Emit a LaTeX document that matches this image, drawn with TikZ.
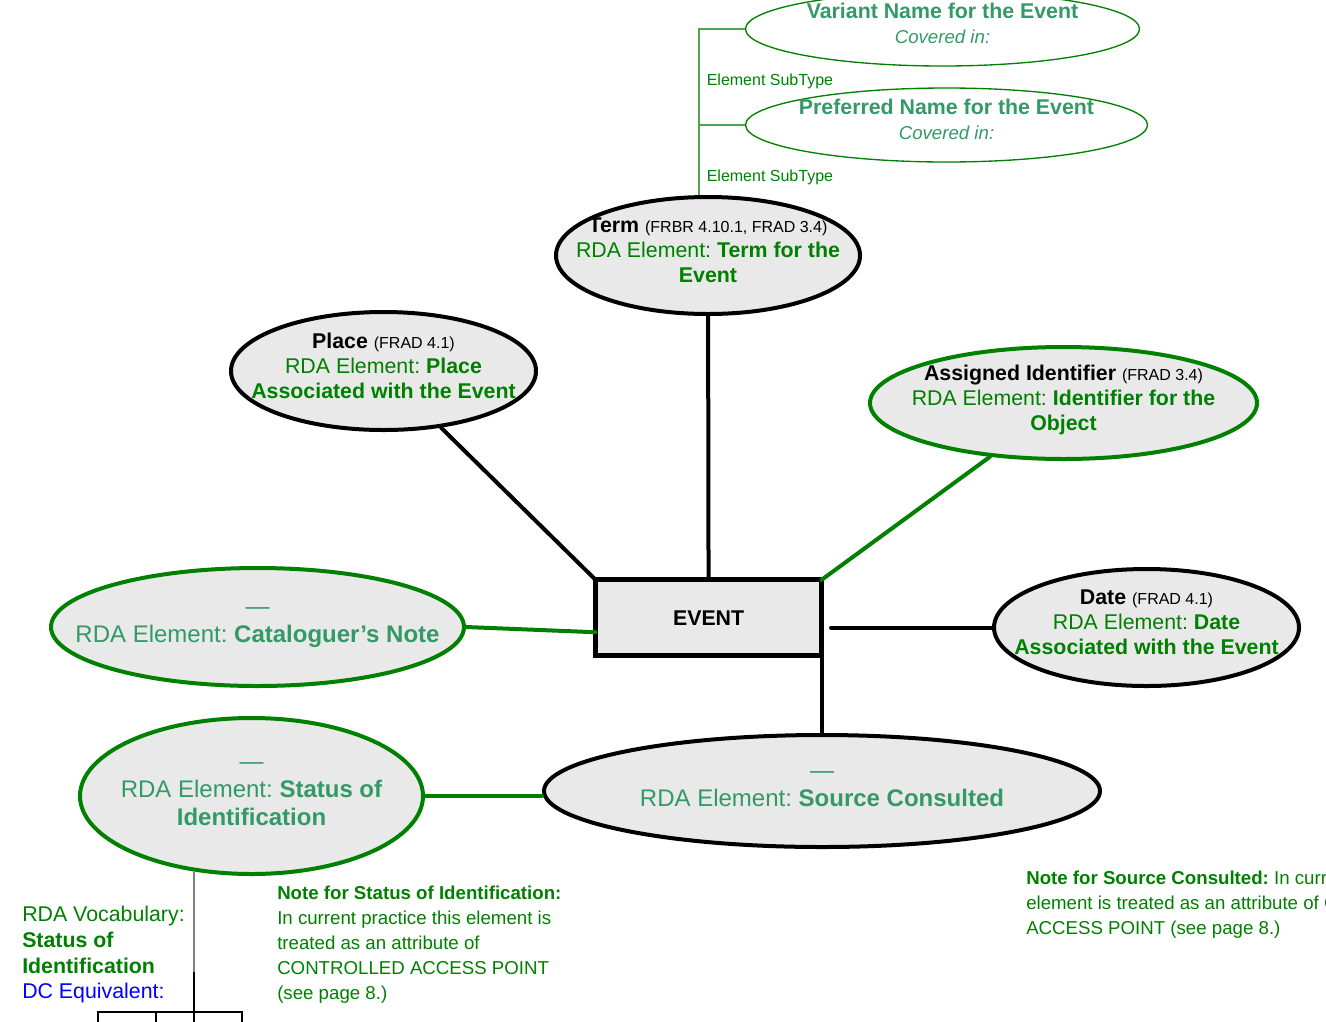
\documentclass[tikz,border=0pt]{standalone}
\usepackage{fontspec}
\setmainfont{Liberation Sans}
\usepackage{tikz}
\usetikzlibrary{calc}
\usetikzlibrary{shapes.geometric}
\definecolor{rdagreen}{HTML}{008000}
\definecolor{rdateal}{HTML}{339966}
\definecolor{boxgray}{HTML}{E9E9E9}
\definecolor{dcblue}{HTML}{0000FF}
\frenchspacing
\newcommand{\hd}[1]{\textcolor{black}{\textbf{#1}}}
\newcommand{\frad}[1]{\textcolor{black}{\fontsize{12}{14}\selectfont #1}}
\newcommand{\cov}{{\fontsize{14}{16}\selectfont\itshape Covered in:}}
\tikzset{
	attr/.style={ellipse, draw=black, line width=3pt, fill=boxgray, inner sep=0pt},
	rdaattr/.style={attr, draw=rdagreen},
	subname/.style={ellipse, draw=rdagreen, line width=1pt, inner sep=0pt},
	eventbox/.style={rectangle, draw=black, line width=3.5pt, fill=boxgray, inner sep=0pt, outer sep=0pt,
		minimum width=169.5pt, minimum height=57pt, font=\fontsize{16}{19}\selectfont\bfseries},
	lbl/.style={align=center, inner sep=0pt, text=rdagreen, font=\fontsize{16}{18.75}\selectfont},
	biglbl/.style={align=center, inner sep=0pt, text=rdateal, font=\fontsize{18}{21}\selectfont},
	note/.style={align=left, anchor=north west, inner sep=0pt, text=rdagreen, font=\fontsize{14}{18.75}\selectfont},
	link/.style={line width=3pt, line cap=round},
	rdalink/.style={link, draw=rdagreen},
	sublink/.style={line width=1pt, draw=rdagreen!70},
	treeline/.style={line width=0.8pt},
}

\begin{document}
\begin{tikzpicture}[x=0.75pt,y=-0.75pt]
\useasboundingbox (0,0) rectangle (1326,1021);
% subtypes of the term
\node[subname, minimum width=295.5pt, minimum height=55.5pt] at (942.5,29) (variant) {};
\node[lbl, text=rdateal] at (942.5,23) (varianttxt) {\textbf{Variant Name for the Event}\\\cov};
\node[subname, minimum width=301.5pt, minimum height=55.5pt] at (946.5,125) (preferred) {};
\node[lbl, text=rdateal] at (946.5,119) (preferredtxt) {\textbf{Preferred Name for the Event}\\\cov};
\node[lbl, anchor=west, font=\fontsize{12}{14}\selectfont] at (706.5,81) (subtype1) {Element SubType};
\node[lbl, anchor=west, font=\fontsize{12}{14}\selectfont] at (706.5,177) (subtype2) {Element SubType};
% attributes
\node[attr, minimum width=228pt, minimum height=87.75pt] at (708,255.5) (term) {};
\node[lbl] at (708,250) (termtxt) {\hd{Term} \frad{(FRBR 4.10.1, FRAD 3.4)}\\RDA Element: \textbf{Term for the}\\\textbf{Event}};
\node[attr, minimum width=228.75pt, minimum height=88.5pt] at (383.5,371) (place) {};
\node[lbl] at (383.5,366) (placetxt) {\hd{Place} \frad{(FRAD 4.1)}\\RDA Element: \textbf{Place}\\\textbf{Associated with the Event}};
\node[rdaattr, minimum width=290.25pt, minimum height=84pt] at (1063.5,403) (assigned) {};
\node[lbl] at (1063.5,399.5) (assignedtxt) {\hd{Assigned Identifier} \frad{(FRAD 3.4)}\\RDA Element: \textbf{Identifier for the}\\\textbf{Object}};
\node[attr, minimum width=228.75pt, minimum height=87.75pt] at (1146.5,627.5) (date) {};
\node[lbl] at (1146.5,622) (datetxt) {\hd{Date} \frad{(FRAD 4.1)}\\RDA Element: \textbf{Date}\\\textbf{Associated with the Event}};
\node[rdaattr, minimum width=309.75pt, minimum height=88.5pt] at (257.5,627) (catnote) {};
\node[biglbl] at (257.5,627.5) (catnotetxt) {---\\RDA Element: \textbf{Cataloguer’s Note}};
\node[attr, minimum width=417pt, minimum height=84pt] at (822,791) (source) {};
\node[biglbl] at (822,789) (sourcetxt) {---\\RDA Element: \textbf{Source Consulted}};
\node[rdaattr, minimum width=257.25pt, minimum height=117pt] at (251.5,796) (status) {};
\node[biglbl] at (251.5,794) (statustxt) {---\\RDA Element: \textbf{Status of}\\\textbf{Identification}};
\node[eventbox] at (708.6,617.8) (event) {EVENT};
% links
\coordinate (subtop) at (699,29);
\draw[sublink] (variant.west) -- (subtop) -- (subtop |- term.north);
\draw[sublink] (preferred.west) -- (preferred.west -| subtop);
\draw[link] (term) -- (event);
\draw[link] (place) -- (event.north west);
\draw[rdalink] (assigned) -- (event.north east);
\coordinate (datejoin) at (831,627.5);
\draw[link] (datejoin) -- (date);
\draw[rdalink] (catnote.east) -- ($(event.south west)!0.31!(event.north west)$);
\draw[link] (event.south east) -- (event.south east |- source.north);
\draw[rdalink] (status.east) -- (status.east -| source.west);
% vocabulary
\coordinate (vocabtop) at (194,872);
\coordinate (vocabmid) at (194,972);
\coordinate (treejoin) at (194,1012);
\draw[gray, line width=1pt] (vocabtop) -- (vocabmid);
\draw[line width=1.2pt] (vocabmid) -- (treejoin);
\draw[treeline] (98,1030) |- (242,1012) -- (242,1030);
\foreach \x in {156,194}
	\draw[treeline] (\x,1012) -- (\x,1030);
\node[note, font=\fontsize{16}{19.25}\selectfont] at (22,906) (vocab) {RDA Vocabulary:\\\textbf{Status of}\\\textbf{Identification}\\\textcolor{dcblue}{DC Equivalent:}};
\node[note] at (277,886) (statusnote) {\textbf{Note for Status of Identification:}\\In current practice this element is\\treated as an attribute of\\CONTROLLED ACCESS POINT\\(see page 8.)};
\node[note] at (1026,870.5) (sourcenote) {\textbf{Note for Source Consulted:} In current practice this\\element is treated as an attribute of CONTROLLED\\ACCESS POINT (see page 8.)};
\end{tikzpicture}
\end{document}
